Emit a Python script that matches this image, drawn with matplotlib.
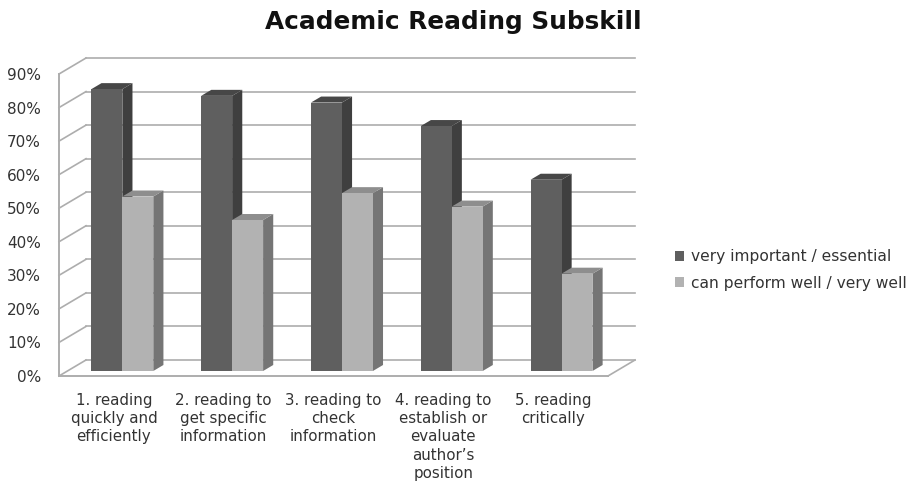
import matplotlib.pyplot as plt
from matplotlib.patches import Patch, Polygon

categories = ['1. reading\nquickly and\nefficiently',
              '2. reading to\nget specific\ninformation',
              '3. reading to\ncheck\ninformation',
              '4. reading to\nestablish or\nevaluate\nauthor\u2019s\nposition',
              '5. reading\ncritically']
important = [84, 82, 80, 73, 57]
perform = [52, 45, 53, 49, 29]
yticks = [0, 10, 20, 30, 40, 50, 60, 70, 80, 90]

# oblique projection of the 3d box, in data units
DX = 0.246
DY = 4.77
BAR_W = 0.282
BAR_NEAR = 5 / 16
BAR_FAR = 11 / 16
N = len(categories)

GRID = '#adadad'
TEXT = '#333333'


def proj(x, y, depth):
    return x + depth * DX, y + depth * DY


def draw_bar(ax, x0, value, front, side, top):
    x1 = x0 + BAR_W
    near = [proj(x0, 0, BAR_NEAR), proj(x1, 0, BAR_NEAR), proj(x1, value, BAR_NEAR), proj(x0, value, BAR_NEAR)]
    right = [proj(x1, 0, BAR_NEAR), proj(x1, 0, BAR_FAR), proj(x1, value, BAR_FAR), proj(x1, value, BAR_NEAR)]
    lid = [proj(x0, value, BAR_NEAR), proj(x1, value, BAR_NEAR), proj(x1, value, BAR_FAR), proj(x0, value, BAR_FAR)]
    ax.add_patch(Polygon(right, facecolor=side, edgecolor='none', zorder=3))
    ax.add_patch(Polygon(lid, facecolor=top, edgecolor='none', zorder=3))
    ax.add_patch(Polygon(near, facecolor=front, edgecolor='none', zorder=3))


plt.rcParams['font.family'] = ['DejaVu Sans']

fig = plt.figure(figsize=(9.14, 4.83), dpi=100)
# axes box runs from the front plane's lower left to the back plane's upper right
ax = fig.add_axes([59 / 914, 1 - 376 / 483, (635 - 59) / 914, (376 - 58) / 483])
ax.set_xlim(0, N + DX)
ax.set_ylim(0, 90 + DY)

for s in ax.spines.values():
    s.set_visible(False)

# walls and floor
for v in yticks:
    bx, by = proj(0, v, 1)
    ex, ey = proj(N, v, 1)
    ax.plot([0, bx], [v, by], color=GRID, lw=1.2, zorder=1, clip_on=False)
    ax.plot([bx, ex], [by, ey], color=GRID, lw=1.2, zorder=1, clip_on=False)
ax.plot([0, 0], [0, 90], color=GRID, lw=1.4, zorder=1, clip_on=False)
ax.plot([0, N], [0, 0], color=GRID, lw=1.4, zorder=1, clip_on=False)
fx, fy = proj(N, 0, 1)
ax.plot([N, fx], [0, fy], color=GRID, lw=1.2, zorder=1, clip_on=False)

for i in range(N):
    center = i + 0.5
    draw_bar(ax, center - BAR_W, important[i], '#5f5f5f', '#3f3f3f', '#474747')
    draw_bar(ax, center, perform[i], '#b2b2b2', '#757575', '#8e8e8e')

ax.set_yticks(yticks)
ax.set_yticklabels([f'{v}%' for v in yticks], fontsize=11, color=TEXT)
ax.set_xticks([i + 0.5 for i in range(N)])
ax.set_xticklabels(categories, fontsize=10.8, color=TEXT, linespacing=1.28)
ax.tick_params(axis='both', length=0)
ax.tick_params(axis='y', pad=13)
ax.tick_params(axis='x', pad=12)

fig.text(453 / 914, 1 - 22 / 483, 'Academic Reading Subskill', ha='center', va='center',
         fontsize=17.8, fontweight='bold', color='#111111')

handles = [Patch(facecolor='#5f5f5f', label='very important / essential'),
           Patch(facecolor='#b2b2b2', label='can perform well / very well')]
fig.legend(handles=handles, loc='center left', bbox_to_anchor=(675 / 914, 1 - 270 / 483), frameon=False,
           fontsize=11.2, labelcolor=TEXT, handlelength=0.6, handleheight=0.6, handletextpad=0.4,
           labelspacing=0.72, borderpad=0, borderaxespad=0)

fig.savefig('out.png', dpi=100)
